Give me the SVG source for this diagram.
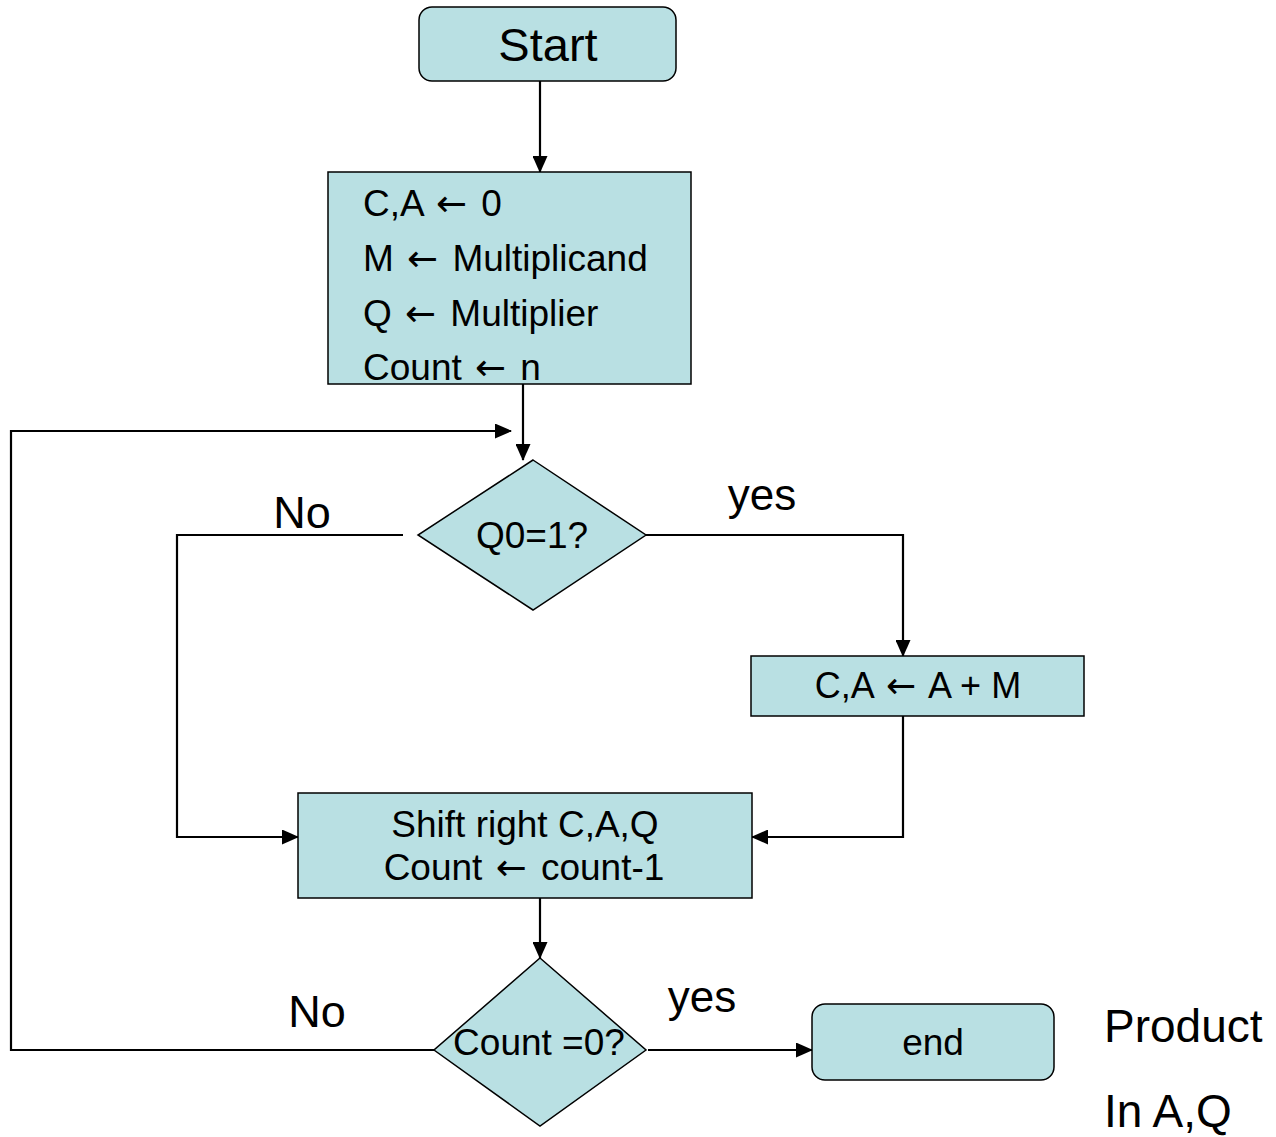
<svg xmlns="http://www.w3.org/2000/svg" width="1276" height="1137" viewBox="0 0 1276 1137">
  <style>
    .box { fill: #b9e0e3; stroke: #000; stroke-width: 1.5; }
    .txt { font-family: "Liberation Sans", Arial, sans-serif; fill: #000; }
    .arw { font-family: "DejaVu Sans", sans-serif; }
    .wire { fill: none; stroke: #000; stroke-width: 2.2; }
  </style>
  <defs>
    <marker id="arrow" markerUnits="userSpaceOnUse" markerWidth="17" markerHeight="15" refX="16" refY="7.5" orient="auto">
      <path d="M0,0 L17,7.5 L0,15 Z" fill="#000"/>
    </marker>
  </defs>

  <rect width="1276" height="1137" fill="#fff"/>

  <!-- connectors -->
  <g id="connectors">
    <path class="wire" d="M540,81 V172" marker-end="url(#arrow)"/>
    <path class="wire" d="M523,384 V460" marker-end="url(#arrow)"/>
    <path class="wire" d="M434,1050 H11 V431 H511" marker-end="url(#arrow)"/>
    <path class="wire" d="M403,535 H177 V837 H298" marker-end="url(#arrow)"/>
    <path class="wire" d="M646,535 H903 V656" marker-end="url(#arrow)"/>
    <path class="wire" d="M903,716 V837 H752" marker-end="url(#arrow)"/>
    <path class="wire" d="M540,898 V958" marker-end="url(#arrow)"/>
    <path class="wire" d="M648,1050 H812" marker-end="url(#arrow)"/>
  </g>

  <!-- edge labels -->
  <g id="labels" class="txt">
    <text x="302" y="528" font-size="45" text-anchor="middle">No</text>
    <text x="762" y="510" font-size="44" text-anchor="middle">yes</text>
    <text x="317" y="1027" font-size="45" text-anchor="middle">No</text>
    <text x="702" y="1012" font-size="44" text-anchor="middle">yes</text>
  </g>

  <g id="start">
    <rect class="box" x="419" y="7" width="257" height="74" rx="13"/>
    <text class="txt" x="548" y="61" font-size="47" text-anchor="middle">Start</text>
  </g>

  <g id="init">
    <rect class="box" x="328" y="172" width="363" height="212"/>
    <g class="txt" font-size="37">
      <text x="363" y="216">C,A <tspan class="arw" dx="3">←</tspan><tspan dx="4"> 0</tspan></text>
      <text x="363" y="271">M <tspan class="arw" dx="3">←</tspan><tspan dx="4"> Multiplicand</tspan></text>
      <text x="363" y="326">Q <tspan class="arw" dx="3">←</tspan><tspan dx="4"> Multiplier</tspan></text>
      <text x="363" y="380">Count <tspan class="arw" dx="3">←</tspan><tspan dx="4"> n</tspan></text>
    </g>
  </g>

  <g id="test-q0">
    <polygon class="box" points="533,460 646,535 533,610 418,535"/>
    <text class="txt" x="532" y="548" font-size="37" text-anchor="middle">Q0=1?</text>
  </g>

  <g id="add">
    <rect class="box" x="751" y="656" width="333" height="60"/>
    <text class="txt" x="918" y="698" font-size="36" text-anchor="middle">C,A <tspan class="arw" dx="3">←</tspan><tspan dx="4"> A + M</tspan></text>
  </g>

  <g id="shift">
    <rect class="box" x="298" y="793" width="454" height="105"/>
    <g class="txt" font-size="37" text-anchor="middle">
      <text x="525" y="837">Shift right C,A,Q</text>
      <text x="524" y="880">Count <tspan class="arw" dx="3">←</tspan><tspan dx="4"> count-1</tspan></text>
    </g>
  </g>

  <g id="test-count">
    <polygon class="box" points="540,958 646,1050 540,1126 434,1050"/>
    <text class="txt" x="539" y="1055" font-size="37" text-anchor="middle">Count =0?</text>
  </g>

  <g id="end">
    <rect class="box" x="812" y="1004" width="242" height="76" rx="13"/>
    <text class="txt" x="933" y="1055" font-size="37" text-anchor="middle">end</text>
  </g>

  <g id="note" class="txt" font-size="46">
    <text x="1104" y="1042">Product</text>
    <text x="1104" y="1127">In A,Q</text>
  </g>
</svg>
